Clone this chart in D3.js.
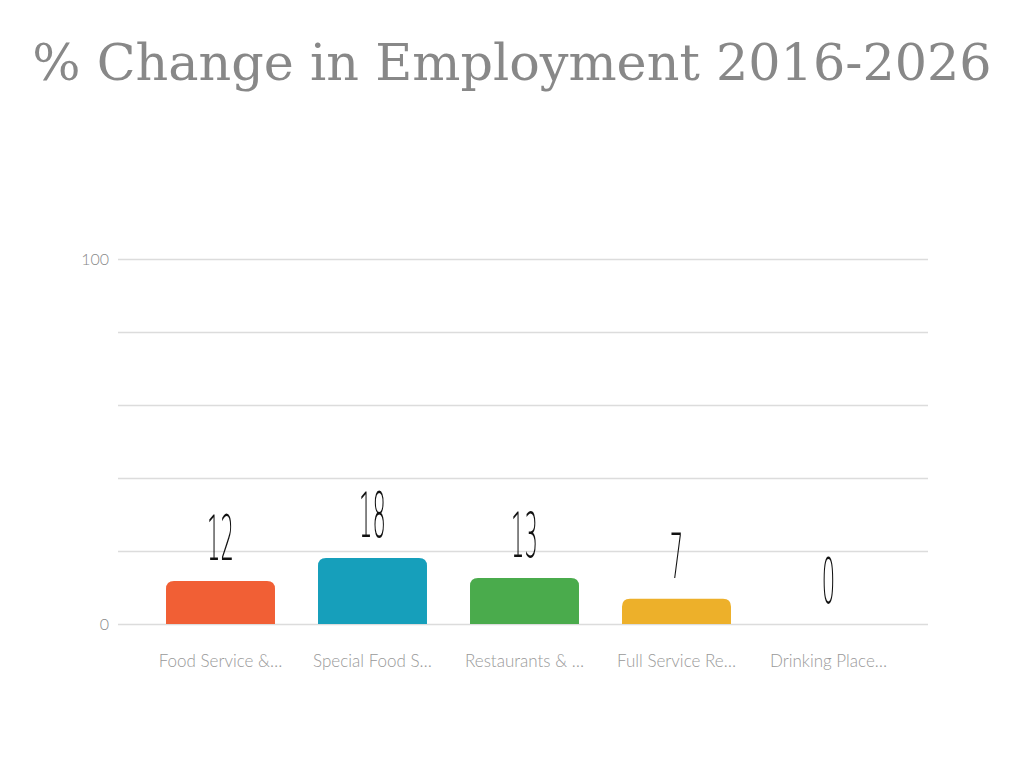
<!DOCTYPE html>
<html>
<head>
<meta charset="utf-8">
<script src="https://cdn.jsdelivr.net/npm/d3@7"></script>
<style>
  html, body { margin: 0; padding: 0; background: #fff; }
  svg { display: block; }
</style>
</head>
<body>
<svg id="chart" width="1024" height="768"></svg>
<script>
const categories = ["Food Service &…", "Special Food S…", "Restaurants & …", "Full Service Re…", "Drinking Place…"];
const values = [11.8, 18.1, 12.6, 6.9, 0];
const colors = ["#f15f35", "#169fbb", "#4aab4c", "#edb02a", "#9b59b6"];
const gridTicks = [0, 20, 40, 60, 80, 100];
const labeledTicks = [0, 100];
const title = "% Change in Employment 2016-2026";

const svg = d3.select("#chart");

svg.append("text")
  .attr("x", 512).attr("y", 80)
  .attr("text-anchor", "middle")
  .attr("font-family", "DejaVu Serif")
  .attr("font-size", 50.8)
  .attr("fill", "#888")
  .text(title);

const y = d3.scaleLinear().domain([0, 100]).range([624, 259]);
const x = d3.scaleBand().domain(categories).range([144.5, 904.5])
  .paddingInner(0.283).paddingOuter(0.1415);

// grid
svg.append("g").selectAll("line").data(gridTicks).join("line")
  .attr("x1", 118).attr("x2", 928)
  .attr("y1", d => Math.round(y(d)) + 0.5).attr("y2", d => Math.round(y(d)) + 0.5)
  .attr("stroke", "#dcdcdc").attr("stroke-width", 1.5);

// y labels
svg.append("g").selectAll("text").data(labeledTicks).join("text")
  .attr("x", 109).attr("y", d => y(d) + 6)
  .attr("text-anchor", "end")
  .attr("font-family", "Lato")
  .attr("font-weight", 300)
  .attr("font-size", 16)
  .attr("fill", "#888")
  .text(d => d);

// bars with rounded top
const r = 8;
function barPath(x0, w, yTop, yBase) {
  const h = yBase - yTop;
  if (h <= 0) return "";
  const rr = Math.min(r, h, w / 2);
  return `M${x0},${yBase}V${yTop + rr}Q${x0},${yTop} ${x0 + rr},${yTop}H${x0 + w - rr}Q${x0 + w},${yTop} ${x0 + w},${yTop + rr}V${yBase}Z`;
}
svg.append("g").selectAll("path").data(values).join("path")
  .attr("d", (d, i) => barPath(x(categories[i]), x.bandwidth(), y(d), y(0)))
  .attr("fill", (d, i) => colors[i]);

// value labels (thin condensed)
svg.append("g").attr("opacity", 0.999).attr("filter", "url(#gray)")
  .selectAll("text").data(values).join("text")
  .attr("transform", (d, i) => `translate(${x(categories[i]) + x.bandwidth() / 2},${y(d) - 21}) scale(0.34,1)`)
  .attr("text-anchor", "middle")
  .attr("font-family", "DejaVu Sans")
  .attr("font-weight", 200)
  .attr("font-size", 62)
  .attr("fill", "#111")
  .text(d => Math.round(d));

svg.append("defs").append("filter").attr("id", "gray")
  .attr("x", "-20%").attr("y", "-20%").attr("width", "140%").attr("height", "140%")
  .append("feColorMatrix").attr("type", "saturate").attr("values", 0);

// x labels
svg.append("g").selectAll("text").data(categories).join("text")
  .attr("x", d => x(d) + x.bandwidth() / 2)
  .attr("y", 667)
  .attr("text-anchor", "middle")
  .attr("font-family", "Lato")
  .attr("font-weight", 300)
  .attr("font-size", 17)
  .attr("fill", "#999")
  .text(d => d);
</script>
</body>
</html>
